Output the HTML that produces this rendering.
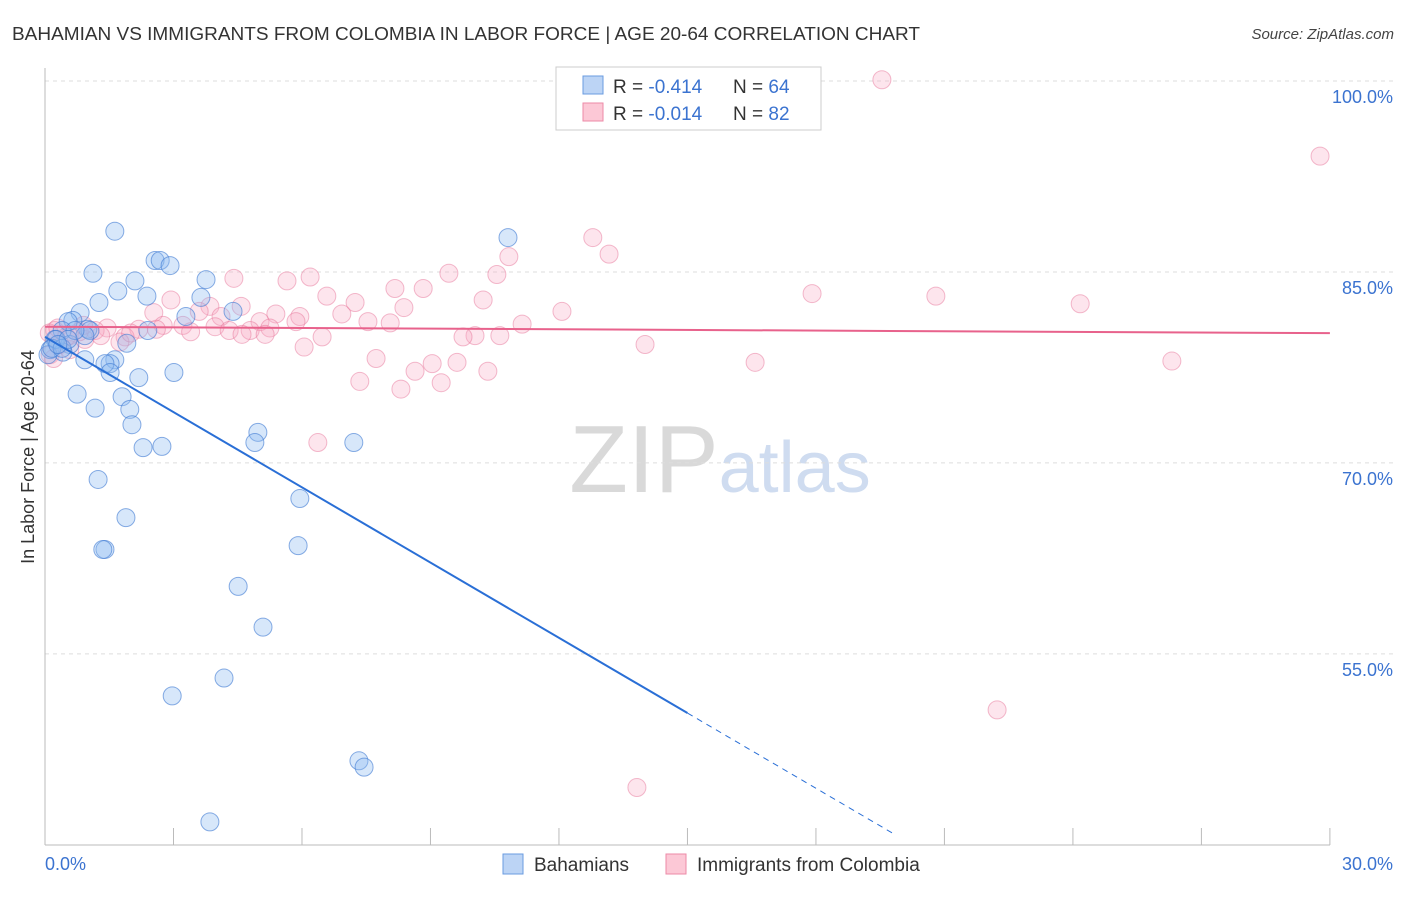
<!DOCTYPE html>
<html><head><meta charset="utf-8"><style>
body{margin:0;background:#fff;font-family:"Liberation Sans",sans-serif}
svg text{font-family:"Liberation Sans",sans-serif}
</style></head><body>
<svg id="chart" width="1406" height="892" xmlns="http://www.w3.org/2000/svg">
<text x="12" y="40" font-size="18" fill="#333" textLength="908" lengthAdjust="spacingAndGlyphs">BAHAMIAN VS IMMIGRANTS FROM COLOMBIA IN LABOR FORCE | AGE 20-64 CORRELATION CHART</text>
<text x="1394" y="39" font-size="15" fill="#444" text-anchor="end" font-style="italic">Source: ZipAtlas.com</text>
<text x="720" y="492" font-size="96" text-anchor="middle" fill="#ddd" font-family="Liberation Serif"><tspan fill="#d9d9d9">ZIP</tspan><tspan fill="#cfdcf0" font-family="Liberation Sans" font-size="72">atlas</tspan></text>
<g id="grid"></g>
<g id="axes"></g>
<g id="marks"></g>
<g>
<rect x="556" y="67" width="265" height="63" fill="#fff" stroke="#ccc"/>
<rect x="583" y="76" width="20" height="18" fill="#bcd4f5" stroke="#6a9be0"/>
<rect x="583" y="103" width="20" height="18" fill="#fcc8d6" stroke="#ec8aa7"/>
<text x="613" y="93" font-size="19" fill="#333">R = <tspan fill="#3b73d0">-0.414</tspan></text>
<text x="733" y="93" font-size="19" fill="#333">N = <tspan fill="#3b73d0">64</tspan></text>
<text x="613" y="120" font-size="19" fill="#333">R = <tspan fill="#3b73d0">-0.014</tspan></text>
<text x="733" y="120" font-size="19" fill="#333">N = <tspan fill="#3b73d0">82</tspan></text>
</g>
<g>
<rect x="503" y="854" width="20" height="20" fill="#bcd4f5" stroke="#6a9be0"/>
<text x="534" y="871" font-size="19" fill="#333">Bahamians</text>
<rect x="666" y="854" width="20" height="20" fill="#fcc8d6" stroke="#ec8aa7"/>
<text x="697" y="871" font-size="19" fill="#333">Immigrants from Colombia</text>
</g>
<text transform="translate(34,457) rotate(-90)" font-size="18" text-anchor="middle" fill="#333">In Labor Force | Age 20-64</text>
</svg>
<script>
const blueX=[1.63,2.57,2.69,2.92,1.12,3.76,2.10,1.70,2.38,3.64,1.26,0.82,0.65,0.54,3.29,4.39,2.40,1.00,0.40,0.23,0.58,0.12,0.42,0.93,1.63,1.52,1.40,1.91,1.52,2.19,3.01,0.75,1.80,1.17,1.98,2.03,4.97,4.90,7.21,2.29,2.73,1.24,5.95,1.89,1.40,1.35,5.91,4.51,5.09,4.18,2.97,7.33,7.45,3.85,10.81,0.26,0.07,0.16,0.40,1.05,0.93,0.70,0.54,0.30];
const blueY=[88.2,85.9,85.9,85.5,84.9,84.4,84.3,83.5,83.1,83.0,82.6,81.8,81.2,81.1,81.5,81.9,80.4,80.5,80.4,79.7,79.3,78.9,78.7,78.1,78.1,77.8,77.8,79.4,77.1,76.7,77.1,75.4,75.2,74.3,74.2,73.0,72.4,71.6,71.6,71.2,71.3,68.7,67.2,65.7,63.2,63.2,63.5,60.3,57.1,53.1,51.7,46.6,46.1,41.8,87.7,79.7,78.5,79.0,79.0,80.4,80.0,80.4,79.7,79.3];
const pinkX=[19.54,29.77,12.79,13.17,10.83,9.43,10.55,6.19,5.65,4.41,8.17,8.83,6.58,17.91,20.80,24.17,10.23,7.24,2.94,8.38,12.07,3.85,4.58,3.60,2.54,5.39,5.95,6.93,4.11,7.54,8.06,11.14,3.22,5.02,5.86,5.25,4.79,3.97,2.76,2.19,1.45,1.17,0.23,0.58,1.87,0.93,5.14,10.04,10.62,9.76,6.47,14.01,6.05,1.75,0.35,0.58,7.73,9.62,9.04,16.58,26.31,10.34,8.64,7.35,9.25,8.31,0.12,6.37,22.23,13.82,0.1,0.3,0.5,0.8,1.3,2.0,2.6,3.4,4.3,4.6,0.2,0.9];
const pinkY=[100.1,94.1,87.7,86.4,86.2,84.9,84.8,84.6,84.3,84.5,83.7,83.7,83.1,83.3,83.1,82.5,82.8,82.6,82.8,82.2,81.9,82.3,82.3,81.9,81.8,81.7,81.5,81.7,81.5,81.1,81.0,80.9,80.8,81.1,81.1,80.6,80.4,80.7,80.8,80.5,80.6,80.4,80.4,80.0,79.9,79.7,80.1,80.0,80.0,79.9,79.9,79.3,79.1,79.5,79.3,78.9,78.2,77.9,77.8,77.9,78.0,77.2,77.2,76.4,76.3,75.8,78.5,71.6,50.6,44.5,80.2,80.6,79.9,80.3,80.0,80.2,80.5,80.3,80.4,80.1,78.2,80.8];
const yTicks=[100,85,70,55];
const yTickLabels=["100.0%","85.0%","70.0%","55.0%"];
const blueLine=[79.9,-1.97];
const pinkLine=[80.7,-0.017];
const NS="http://www.w3.org/2000/svg";
const X=v=>45+v*42.83, Y=v=>81+(100-v)*12.73;
function mk(t,a,p){const e=document.createElementNS(NS,t);for(const k in a)e.setAttribute(k,a[k]);p.appendChild(e);return e;}
const grid=document.getElementById('grid'),axes=document.getElementById('axes'),marks=document.getElementById('marks');
yTicks.forEach((t,i)=>{
 const l=mk('line',{x1:45,x2:1393,y1:Y(t),y2:Y(t),stroke:'#ddd','stroke-dasharray':'4,4'},grid);
 
 
 const tx=mk('text',{x:1393,y:Y(t)+22,'font-size':18,fill:'#3b73d0','text-anchor':'end'},axes);
 tx.textContent=yTickLabels[i];
 
 
});
const ax=mk('line',{x1:45,x2:45,y1:68,y2:845,stroke:'#bbb'},axes);


const bx=mk('line',{x1:45,x2:1330,y1:845,y2:845,stroke:'#bbb'},axes);


for(let i=0;i<=10;i++){const t=mk('line',{x1:X(i*3),x2:X(i*3),y1:828,y2:845,stroke:'#bbb'},axes);
 
 }
[[0,"0.0%","start",45],[30,"30.0%","end",1393]].forEach(d=>{const t=mk('text',{x:d[3],y:870,'font-size':18,fill:'#3b73d0','text-anchor':d[2]},axes);t.textContent=d[1];
 
 });
pinkX.forEach((x,i)=>{const c=mk('circle',{cx:X(x),cy:Y(pinkY[i]),r:9,fill:'rgba(248,170,195,0.3)',stroke:'rgba(232,120,155,0.5)','stroke-width':1},marks);
 
 });
blueX.forEach((x,i)=>{const c=mk('circle',{cx:X(x),cy:Y(blueY[i]),r:9,fill:'rgba(140,185,240,0.35)',stroke:'rgba(60,120,210,0.6)','stroke-width':1},marks);
 
 });
const by=x=>blueLine[0]+blueLine[1]*x;
const xEnd=19.8;
const b1=mk('line',{x1:X(0),y1:Y(by(0)),x2:X(15),y2:Y(by(15)),stroke:'#2a6fd6','stroke-width':2},marks);


const b2=mk('line',{x1:X(15),y1:Y(by(15)),x2:X(xEnd),y2:Y(by(xEnd)),stroke:'#2a6fd6','stroke-width':1,'stroke-dasharray':'6,5'},marks);


const py=x=>pinkLine[0]+pinkLine[1]*x;
const p1=mk('line',{x1:X(0),y1:Y(py(0)),x2:X(30),y2:Y(py(30)),stroke:'#e8628c','stroke-width':2},marks);


</script>
</body></html>
